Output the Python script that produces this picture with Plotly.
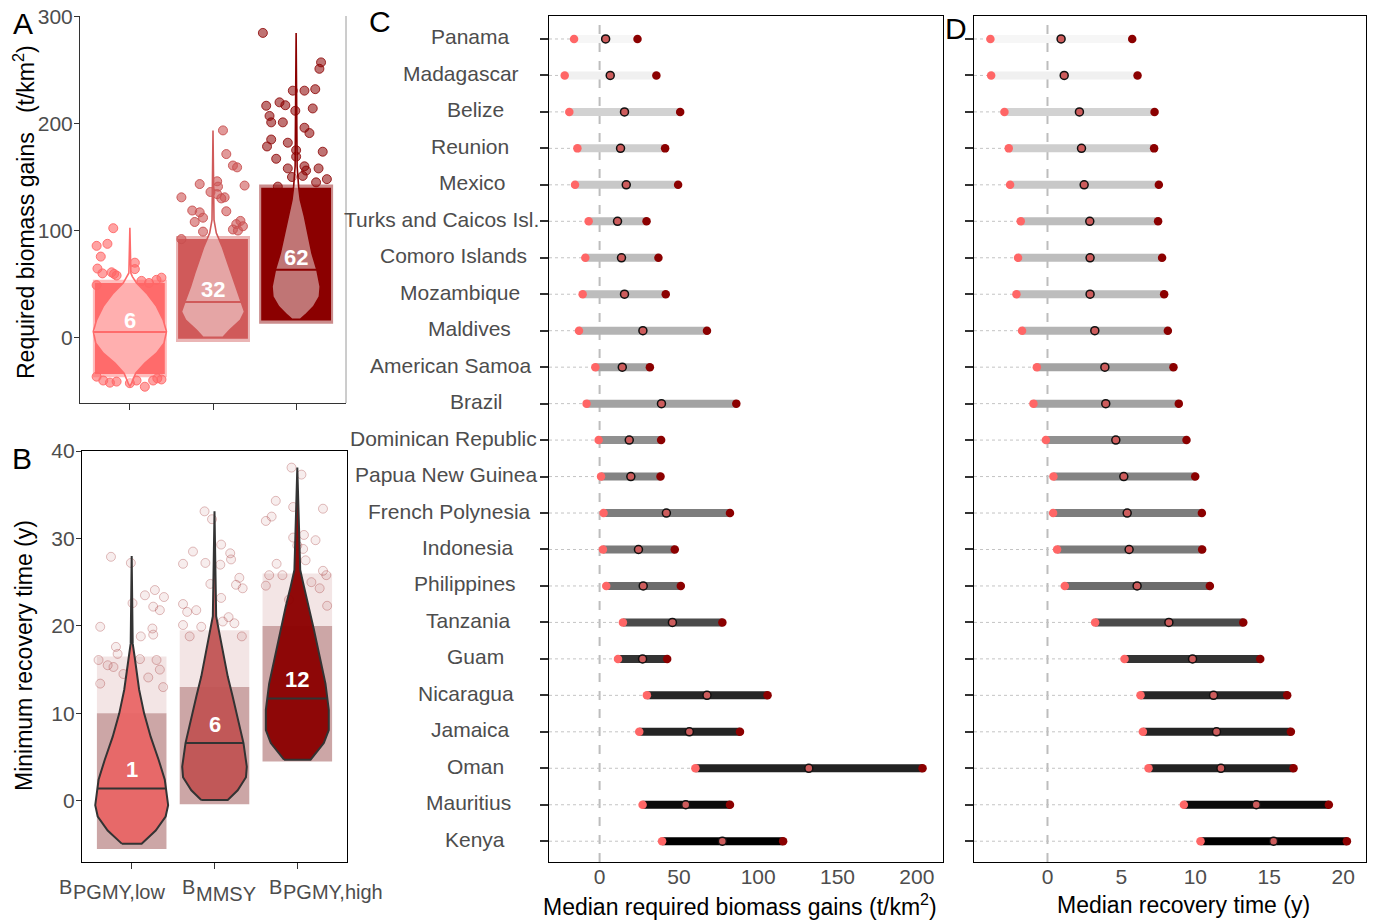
import numpy as np
import plotly.graph_objects as go

# ------------------------------------------------------------------ data
countries = ["Panama", "Madagascar", "Belize", "Reunion", "Mexico",
             "Turks and Caicos Isl.", "Comoro Islands", "Mozambique", "Maldives",
             "American Samoa", "Brazil", "Dominican Republic", "Papua New Guinea",
             "French Polynesia", "Indonesia", "Philippines", "Tanzania", "Guam",
             "Nicaragua", "Jamaica", "Oman", "Mauritius", "Kenya"]
gain_low = [-16.1, -22.0, -19.1, -14.0, -15.5, -6.9, -9.0, -10.7, -13.0, -2.7, -8.2, -0.6,
            0.9, 2.5, 2.1, 4.2, 14.7, 11.6, 29.8, 25.0, 60.4, 27.1, 39.4]
gain_med = [3.8, 6.7, 15.7, 13.2, 16.8, 11.3, 13.8, 15.7, 27.3, 14.3, 39.0, 18.7,
            19.7, 42.1, 24.5, 27.5, 45.9, 27.1, 67.7, 56.6, 131.9, 54.3, 77.4]
gain_high = [23.9, 35.8, 50.8, 41.3, 49.5, 29.6, 37.1, 41.7, 67.7, 31.7, 86.2, 38.8,
             38.4, 82.2, 47.4, 51.2, 77.4, 42.6, 105.9, 88.5, 203.6, 82.2, 115.7]
time_low = [-3.86, -3.81, -2.91, -2.62, -2.53, -1.81, -1.99, -2.10, -1.72, -0.72, -0.95, -0.11,
            0.40, 0.38, 0.65, 1.17, 3.22, 5.21, 6.29, 6.45, 6.83, 9.22, 10.35]
time_med = [0.92, 1.13, 2.16, 2.30, 2.48, 2.86, 2.88, 2.88, 3.20, 3.88, 3.94, 4.62,
            5.16, 5.39, 5.52, 6.06, 8.21, 9.81, 11.23, 11.43, 11.73, 14.12, 15.29]
time_high = [5.73, 6.09, 7.24, 7.21, 7.53, 7.48, 7.75, 7.89, 8.14, 8.52, 8.88, 9.40,
             9.99, 10.44, 10.46, 10.98, 13.24, 14.39, 16.21, 16.46, 16.64, 19.03, 20.25]

gain_ticks = [0, 50, 100, 150, 200]
time_ticks = [0, 5, 10, 15, 20]
a_ticks = [0, 100, 200, 300]
b_ticks = [0, 10, 20, 30, 40]

cat_pos = [1, 2, 3]
cat_sub = ["PGMY,low", "MMSY", "PGMY,high"]

# Panel A: violin outlines (y, half width) and medians
a_median = [5.2, 33.4, 63.3]
a_median_text = ["6", "32", "62"]
a1_vy = [-45.6, -42.5, -33.2, -23.8, -14.5, -5.1, 5.8, 16.7, 29.2, 41.6, 51.0, 57.0, 60.4, 102.5]
a1_vw = [0.0, 0.02, 0.07, 0.18, 0.32, 0.41, 0.44, 0.40, 0.32, 0.20, 0.08, 0.03, 0.012, 0.0]
a2_vy = [0.4, 7.2, 16.5, 24.3, 35.2, 47.7, 60.2, 72.6, 85.0, 97.6, 110.0, 193.5]
a2_vw = [0.12, 0.20, 0.33, 0.38, 0.33, 0.27, 0.22, 0.165, 0.11, 0.04, 0.012, 0.0]
a3_vy = [17.2, 21.2, 29.0, 38.3, 47.7, 63.3, 78.9, 97.6, 113.0, 128.7, 141.0, 160.0, 284.5]
a3_vw = [0.05, 0.11, 0.21, 0.28, 0.29, 0.25, 0.19, 0.14, 0.10, 0.05, 0.03, 0.012, 0.0]
# dense jitter cloud extent (y) and scattered points (dx from category, y)
a_dense_lo = [-34, -1, 16]
a_dense_hi = [51, 92, 140]
a1_pt_dx = [-0.2, -0.40, -0.27, -0.35, -0.39, -0.33, -0.19, -0.16, 0.06, 0.06, -0.4, 0.23, 0.38,
            0.14, 0.32, -0.22, -0.4, -0.24, 0.0, 0.18, 0.38, 0.28, -0.16, -0.32, 0.08, 0.33]
a1_pt_y = [102.2, 85.7, 87.6, 75.7, 64.5, 60, 59.5, 58, 70, 64, 49, 51, 56,
           53, 54, 61, -36.4, -42, -42.5, -45.8, -39, -40, -41, -40, -40, -38]
a2_pt_dx = [0.12, 0.16, 0.24, 0.29, 0.38, -0.16, 0.05, 0.06, -0.38, -0.03, 0.05, 0.14, 0.1,
            -0.25, -0.16, -0.12, -0.22, 0.16, 0.33, 0.28, 0.24, -0.12, -0.38, 0.3, 0.36]
a2_pt_y = [193.5, 171.4, 160.7, 159, 142, 143.4, 146, 141, 131, 136, 134, 131, 130,
           118.7, 117, 112, 108, 118, 109, 106, 101, 99, 92, 100, 104]
a3_pt_dx = [-0.40, 0.30, 0.28, -0.04, 0.1, 0.23, -0.36, -0.2, -0.13, 0.2, -0.32, -0.3, -0.16,
            -0.01, 0.1, 0.16, -0.35, -0.3, -0.1, 0.32, -0.24, 0.0, -0.1, 0.1, 0.27, 0.37,
            0.24, -0.22, 0.08, 0.0, 0.12, -0.05]
a3_pt_y = [284.5, 257, 251, 230.6, 230.6, 232, 216.5, 219.7, 217, 214, 207, 201, 201,
           211.8, 196, 191, 178.5, 185, 182, 173.6, 167, 175, 158, 160, 158, 148,
           145, 141, 151, 169, 156, 150]

# Panel B
b_median = [1.4, 6.6, 11.7]
b_median_text = ["1", "6", "12"]
b1_vy = [-4.9, -3.4, -1.8, -0.5, 2.4, 4.7, 7.3, 10.0, 12.7, 15.0, 16.5, 18.0, 28.0]
b1_vw = [0.12, 0.29, 0.41, 0.44, 0.40, 0.325, 0.23, 0.15, 0.09, 0.06, 0.035, 0.012, 0.0]
b2_vy = [0.1, 1.2, 2.7, 3.9, 6.6, 9.2, 11.9, 14.2, 15.7, 17.6, 19.6, 21.1, 33.1]
b2_vw = [0.16, 0.28, 0.38, 0.39, 0.35, 0.29, 0.22, 0.16, 0.13, 0.09, 0.05, 0.02, 0.0]
b3_vy = [4.7, 6.6, 8.1, 10.4, 13.4, 16.5, 19.6, 22.2, 24.5, 26.4, 38.1]
b3_vw = [0.16, 0.32, 0.38, 0.38, 0.34, 0.27, 0.20, 0.14, 0.08, 0.035, 0.0]
b_dense_lo = [-5.5, -0.4, 4.5]
b_dense_mid = [10.0, 13.0, 20.0]
b_dense_hi = [16.5, 19.5, 26.0]
b1_pt_dx = [-0.25, -0.01, -0.38, 0.16, 0.28, 0.39, 0.26, 0.34, 0.11, 0.25, 0.26, 0.01, -0.4,
            -0.19, -0.17, -0.29, -0.22, 0.3, 0.34, 0.2, -0.38, 0.38, 0.1, -0.1]
b1_pt_y = [27.9, 27.2, 19.9, 23.5, 24.1, 23.3, 22.2, 21.8, 18.8, 19.7, 19.0, 22.6, 16.1,
           17.6, 16.8, 15.5, 15.3, 16.1, 15.0, 14.1, 13.4, 13.0, 16.2, 14.5]
b2_pt_dx = [-0.12, -0.03, 0.08, -0.38, -0.26, -0.11, 0.07, 0.19, 0.2, -0.38, -0.33, -0.22,
            0.08, 0.3, 0.34, 0.26, -0.38, -0.3, -0.16, 0.24, 0.33, 0.17, 0.1, -0.05]
b2_pt_y = [33.1, 32.2, 29.3, 27.1, 28.5, 27.2, 27.0, 28.3, 27.6, 22.5, 21.6, 21.8,
           23.2, 25.5, 24.3, 24.7, 20.1, 18.8, 19.9, 20.3, 18.8, 21.0, 20.5, 24.8]
b3_pt_dx = [-0.07, 0.05, -0.26, -0.38, -0.31, -0.05, 0.31, -0.05, 0.08, 0.22, 0.0, 0.07,
            -0.25, -0.34, -0.18, 0.31, 0.35, 0.17, 0.27, -0.38, 0.36, -0.1, 0.1]
b3_pt_y = [38.1, 37.3, 34.3, 32.0, 32.5, 33.6, 33.4, 30.1, 30.4, 29.8, 29.2, 28.8,
           27.1, 25.8, 25.8, 26.3, 25.8, 25.0, 24.3, 24.6, 22.3, 23.0, 27.5]

# ------------------------------------------------------------------ helpers / styles
W, H = 1376, 920
FONT = "Liberation Sans, Arial, Helvetica, sans-serif"
TICKGREY = "#4d4d4d"


def fx(px):
    return px / W


def fy(py):
    return 1 - py / H


fig = go.Figure()


def add(trace):
    trace.update(showlegend=False, hoverinfo="skip")
    fig.add_trace(trace)


def violin_xy(c, ys, ws):
    ys = np.asarray(ys, float)
    ws = np.asarray(ws, float)
    x = np.concatenate([c - ws, (c + ws)[::-1], [c - ws[0]]])
    y = np.concatenate([ys, ys[::-1], [ys[0]]])
    return x, y


def block_xy(c, lo, hi, half=0.43):
    return [c - half, c + half, c + half, c - half, c - half], [lo, lo, hi, hi, lo]


# ------------------------------------------------------------------ panel A
a_cols = ["#ff6b6b", "#d05a5a", "#8b0000"]
a_halo = ["rgba(255,107,107,0.45)", "rgba(208,90,90,0.45)", "rgba(139,0,0,0.45)"]
a_pt_fill = ["rgba(255,102,102,0.6)", "rgba(205,85,85,0.6)", "rgba(139,0,0,0.55)"]
a_pt_line = ["rgba(255,102,102,0.9)", "rgba(200,80,80,0.9)", "rgba(139,0,0,0.8)"]
a_violins = [(a1_vy, a1_vw), (a2_vy, a2_vw), (a3_vy, a3_vw)]
a_points = [(a1_pt_dx, a1_pt_y), (a2_pt_dx, a2_pt_y), (a3_pt_dx, a3_pt_y)]

for i, c in enumerate(cat_pos):
    bx, by = block_xy(c, a_dense_lo[i] - 3, a_dense_hi[i] + 3, 0.445)
    add(go.Scatter(x=bx, y=by, mode="lines", fill="toself", fillcolor=a_halo[i],
                   line=dict(width=0), xaxis="x", yaxis="y"))
    bx, by = block_xy(c, a_dense_lo[i], a_dense_hi[i], 0.42)
    add(go.Scatter(x=bx, y=by, mode="lines", fill="toself", fillcolor=a_cols[i],
                   line=dict(width=0), xaxis="x", yaxis="y"))
    dx, yy = a_points[i]
    add(go.Scatter(x=[c + d for d in dx], y=yy, mode="markers",
                   marker=dict(size=9, color=a_pt_fill[i], line=dict(color=a_pt_line[i], width=1)),
                   xaxis="x", yaxis="y"))
for i, c in enumerate(cat_pos):
    vy, vw = a_violins[i]
    vx, vyy = violin_xy(c, vy, vw)
    add(go.Scatter(x=vx, y=vyy, mode="lines", fill="toself", fillcolor="rgba(255,255,255,0.46)",
                   line=dict(color=a_cols[i], width=1.6), xaxis="x", yaxis="y"))
    w = float(np.interp(a_median[i], vy, vw))
    add(go.Scatter(x=[c - w, c + w], y=[a_median[i]] * 2, mode="lines",
                   line=dict(color=a_cols[i], width=2), xaxis="x", yaxis="y"))

# ------------------------------------------------------------------ panel B
b_fill = ["rgba(232,100,100,0.93)", "rgba(192,82,82,0.93)", "rgba(139,0,0,0.96)"]
b_violins = [(b1_vy, b1_vw), (b2_vy, b2_vw), (b3_vy, b3_vw)]
b_points = [(b1_pt_dx, b1_pt_y), (b2_pt_dx, b2_pt_y), (b3_pt_dx, b3_pt_y)]
for i, c in enumerate(cat_pos):
    bx, by = block_xy(c, b_dense_mid[i], b_dense_hi[i], 0.42)
    add(go.Scatter(x=bx, y=by, mode="lines", fill="toself", fillcolor="rgba(139,0,0,0.10)",
                   line=dict(width=0), xaxis="x2", yaxis="y2"))
    bx, by = block_xy(c, b_dense_lo[i], b_dense_mid[i], 0.42)
    add(go.Scatter(x=bx, y=by, mode="lines", fill="toself", fillcolor="rgba(120,20,20,0.38)",
                   line=dict(width=0), xaxis="x2", yaxis="y2"))
    dx, yy = b_points[i]
    add(go.Scatter(x=[c + d for d in dx], y=yy, mode="markers",
                   marker=dict(size=9, color="rgba(139,0,0,0.07)",
                               line=dict(color="rgba(139,0,0,0.25)", width=1)),
                   xaxis="x2", yaxis="y2"))
for i, c in enumerate(cat_pos):
    vy, vw = b_violins[i]
    vx, vyy = violin_xy(c, vy, vw)
    add(go.Scatter(x=vx, y=vyy, mode="lines", fill="toself", fillcolor=b_fill[i],
                   line=dict(color="#333333", width=2), xaxis="x2", yaxis="y2"))
    w = float(np.interp(b_median[i], vy, vw))
    add(go.Scatter(x=[c - w, c + w], y=[b_median[i]] * 2, mode="lines",
                   line=dict(color="#333333", width=2), xaxis="x2", yaxis="y2"))

# ------------------------------------------------------------------ panels C & D
n = len(countries)
rows = [n - 1 - i for i in range(n)]
# grey shade of each bar follows median recovery time
shade_v = [0.9, 2.9, 6.1, 9.8, 11.7, 15.3]
shade_g = [247, 188, 107, 51, 34, 0]
bar_cols = []
for v in time_med:
    g = int(round(np.interp(v, shade_v, shade_g)))
    bar_cols.append(f"rgb({g},{g},{g})")

C_RANGE = [-31.9, 216.5]
D_RANGE = [-4.97, 21.54]


def dumbbell(xa, ya, lo, med, hi, xmin):
    xs, ys = [], []
    for r, l in zip(rows, lo):
        xs += [xmin, l, None]
        ys += [r, r, None]
    add(go.Scatter(x=xs, y=ys, mode="lines", line=dict(color="#c4c4c4", width=1, dash="dot"),
                   xaxis=xa, yaxis=ya))
    for r, l, h, col in zip(rows, lo, hi, bar_cols):
        add(go.Scatter(x=[l, h], y=[r, r], mode="lines", line=dict(color=col, width=8),
                       xaxis=xa, yaxis=ya))
    add(go.Scatter(x=lo, y=rows, mode="markers", marker=dict(size=8.5, color="#ff6666"),
                   xaxis=xa, yaxis=ya))
    add(go.Scatter(x=hi, y=rows, mode="markers", marker=dict(size=8.5, color="#8b0000"),
                   xaxis=xa, yaxis=ya))
    add(go.Scatter(x=med, y=rows, mode="markers",
                   marker=dict(size=8, color="#cd5c5c", line=dict(color="#111111", width=1.5)),
                   xaxis=xa, yaxis=ya))


dumbbell("x3", "y3", gain_low, gain_med, gain_high, C_RANGE[0])
dumbbell("x4", "y4", time_low, time_med, time_high, D_RANGE[0])

# ------------------------------------------------------------------ layout
tickfont = dict(family=FONT, size=21, color=TICKGREY)
base = dict(showgrid=False, zeroline=False, tickfont=tickfont, fixedrange=True, automargin=False)

fig.update_layout(
    template="none",
    width=W, height=H, margin=dict(l=0, r=0, t=0, b=0, pad=0), autosize=False,
    paper_bgcolor="white", plot_bgcolor="white",
    font=dict(family=FONT, color="black"),
    xaxis=dict(base, domain=[fx(80), fx(346)], range=[0.4, 3.6], anchor="y",
               tickvals=cat_pos, showticklabels=False, ticks="outside", ticklen=6,
               tickcolor="#333333", showline=True, linecolor="#333333", linewidth=1),
    yaxis=dict(base, domain=[fy(403), fy(16)], range=[-61, 300.3], anchor="x",
               tickvals=a_ticks, ticks="outside", ticklen=5, tickcolor="#333333",
               ticklabelstandoff=-3,
               showline=True, linecolor="#333333", linewidth=1),
    xaxis2=dict(base, domain=[fx(82), fx(347)], range=[0.4, 3.6], anchor="y2",
                tickvals=cat_pos, showticklabels=False, ticks="outside", ticklen=6,
                tickcolor="#333333", showline=True, mirror=True, linecolor="black", linewidth=1.3),
    yaxis2=dict(base, domain=[fy(862), fy(451)], range=[-7, 40], anchor="x2",
                tickvals=b_ticks, ticks="outside", ticklen=5, tickcolor="#333333",
                ticklabelstandoff=-3,
                showline=True, mirror=True, linecolor="black", linewidth=1.3),
    xaxis3=dict(base, domain=[fx(549), fx(943)], range=C_RANGE, anchor="y3",
                tickvals=gain_ticks, ticks="", ticklabelstandoff=-4,
                showline=True, mirror=True, linecolor="black", linewidth=1.3),
    yaxis3=dict(base, domain=[fy(862), fy(16)], range=[-0.57, n - 1 + 0.63], anchor="x3",
                tickvals=rows, showticklabels=False, ticks="outside", ticklen=8, tickwidth=2,
                tickcolor="#333333", showline=True, mirror=True, linecolor="black", linewidth=1.3),
    xaxis4=dict(base, domain=[fx(974), fx(1366)], range=D_RANGE, anchor="y4",
                tickvals=time_ticks, ticks="", ticklabelstandoff=-4,
                showline=True, mirror=True, linecolor="black", linewidth=1.3),
    yaxis4=dict(base, domain=[fy(862), fy(16)], range=[-0.57, n - 1 + 0.63], anchor="x4",
                tickvals=rows, showticklabels=False, ticks="outside", ticklen=8, tickwidth=2,
                tickcolor="#333333", showline=True, mirror=True, linecolor="black", linewidth=1.3),
)

shapes = [
    dict(type="line", xref="x domain", yref="y domain", x0=1, x1=1, y0=0, y1=1,
         line=dict(color="#9a9a9a", width=1)),
    dict(type="line", xref="x3", yref="y3 domain", x0=0, x1=0, y0=0, y1=1, layer="below",
         line=dict(color="#bdbdbd", width=2, dash="dash")),
    dict(type="line", xref="x4", yref="y4 domain", x0=0, x1=0, y0=0, y1=1, layer="below",
         line=dict(color="#bdbdbd", width=2, dash="dash")),
]
fig.update_layout(shapes=shapes)

ann = []
# panel letters
for letter, px, py in [("A", 23, 24), ("B", 22, 458), ("C", 380, 22), ("D", 956, 29)]:
    ann.append(dict(text=letter, x=fx(px), y=fy(py), xref="paper", yref="paper",
                    xanchor="center", yanchor="middle", showarrow=False,
                    font=dict(family=FONT, size=30, color="black")))
# axis titles
title_font = dict(family=FONT, size=23, color="black")
ann.append(dict(text="Required biomass gains\u00a0\u00a0\u00a0(t/km<sup>2</sup>)", x=fx(24), y=fy(212),
                xref="paper", yref="paper", textangle=-90, showarrow=False,
                xanchor="center", yanchor="middle", font=title_font))
ann.append(dict(text="Minimum recovery time (y)", x=fx(24), y=fy(656),
                xref="paper", yref="paper", textangle=-90, showarrow=False,
                xanchor="center", yanchor="middle", font=title_font))
ann.append(dict(text="Median required biomass gains (t/km<sup>2</sup>)", x=fx(740), y=fy(905),
                xref="paper", yref="paper", showarrow=False,
                xanchor="center", yanchor="middle", font=title_font))
ann.append(dict(text="Median recovery time (y)", x=fx(1183), y=fy(905),
                xref="paper", yref="paper", showarrow=False,
                xanchor="center", yanchor="middle", font=title_font))
# B category labels (B with subscripts)
cat_font = dict(family=FONT, size=20, color=TICKGREY)
for sub, bx_right, by_s in zip(cat_sub, [73, 196, 283], [892, 894, 892]):
    ann.append(dict(text="B", x=fx(bx_right), y=fy(887), xref="paper", yref="paper",
                    xanchor="right", yanchor="middle", showarrow=False, borderpad=0,
                    font=cat_font))
    ann.append(dict(text=sub, x=fx(bx_right - 1), y=fy(by_s), xref="paper", yref="paper",
                    xanchor="left", yanchor="middle", showarrow=False, borderpad=0,
                    font=cat_font))
# median labels in violins
for i, c in enumerate(cat_pos):
    ann.append(dict(text=f"<b>{a_median_text[i]}</b>", x=c, y=a_median[i], xref="x", yref="y",
                    yshift=12, showarrow=False, xanchor="center", yanchor="middle",
                    font=dict(family=FONT, size=22, color="white")))
    ann.append(dict(text=f"<b>{b_median_text[i]}</b>", x=c, y=b_median[i], xref="x2", yref="y2",
                    yshift=19, showarrow=False, xanchor="center", yanchor="middle",
                    font=dict(family=FONT, size=22, color="white")))

# country labels (justified like the original: anchor moves with label width)
ARIAL = {'A': 667, 'B': 667, 'C': 722, 'D': 722, 'F': 611, 'G': 778, 'I': 278, 'J': 500,
         'K': 667, 'M': 833, 'N': 722, 'O': 778, 'P': 667, 'R': 722, 'T': 611,
         'a': 556, 'b': 556, 'c': 500, 'd': 556, 'e': 556, 'g': 556, 'h': 556, 'i': 222,
         'k': 500, 'l': 222, 'm': 833, 'n': 556, 'o': 556, 'p': 556, 'q': 556, 'r': 333,
         's': 500, 't': 278, 'u': 556, 'v': 500, 'y': 500, 'z': 500, ' ': 278, '.': 278}
LAB_SIZE = 21
for name, r in zip(countries, rows):
    wpx = sum(ARIAL.get(ch, 556) for ch in name) / 1000 * LAB_SIZE
    cx = 489.3 - 0.243 * wpx
    ann.append(dict(text=name, x=fx(cx), y=r, xref="paper", yref="y3", yshift=2,
                    xanchor="center", yanchor="middle", showarrow=False,
                    font=dict(family=FONT, size=LAB_SIZE, color=TICKGREY)))

fig.update_layout(annotations=ann)

fig.write_html("out.html", config={"displayModeBar": False},
               post_script="document.body.style.margin='0px';document.body.style.overflow='hidden';")
